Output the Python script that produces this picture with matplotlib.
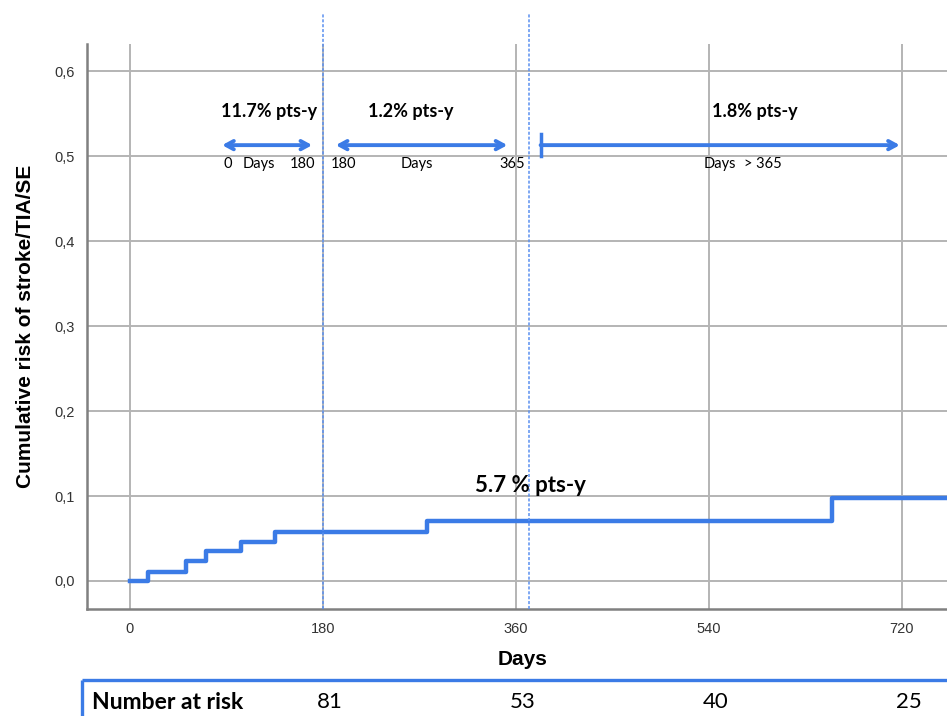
import matplotlib.pyplot as plt
from matplotlib.lines import Line2D

# Kaplan-Meier style cumulative risk (step after each event)
step_days = [0, 17, 52, 71, 104, 135, 277, 655, 770]
step_risk = [0.0, 0.011, 0.023, 0.035, 0.046, 0.058, 0.071, 0.098, 0.098]

x_ticks = [0, 180, 360, 540, 720]
y_ticks = [0.0, 0.1, 0.2, 0.3, 0.4, 0.5, 0.6]
y_tick_labels = ["0,0", "0,1", "0,2", "0,3", "0,4", "0,5", "0,6"]

period_cuts = [180, 372]
period_rates = ["11.7% pts-y", "1.2% pts-y", "1.8% pts-y"]
overall_rate = "5.7 % pts-y"

risk_days = [180, 360, 540, 720]
at_risk = [81, 53, 40, 25]

BLUE = "#3b7be6"
GRID = "#b4b4b4"
TXT = "Lato"

fig = plt.figure(figsize=(9.47, 7.16), dpi=100)
ax = fig.add_axes([0.0919, 0.1494, 0.9081, 0.7891])
ax.set_xlim(-40, 762)
ax.set_ylim(-0.033, 0.632)

for t in x_ticks:
    ax.axvline(t, color=GRID, lw=1.4, zorder=1)
for t in y_ticks:
    ax.axhline(t, color=GRID, lw=1.4, zorder=1)

ax.step(step_days, step_risk, where="post", color=BLUE, lw=3.2, zorder=3)

# period separators reach above the plot area
for c in period_cuts:
    ax.plot([c, c], [-0.033, 0.667], color="#5a90f0", lw=1.1, ls=(0, (2, 1.2)),
            clip_on=False, zorder=4)

ax.set_xticks(x_ticks)
ax.set_xticklabels([str(t) for t in x_ticks])
ax.set_yticks(y_ticks)
ax.set_yticklabels(y_tick_labels)
ax.tick_params(length=0, labelsize=10.5, labelcolor="#333333", pad=9,
               labelfontfamily="Liberation Sans")
for s in ["top", "right"]:
    ax.spines[s].set_visible(False)
for s in ["left", "bottom"]:
    ax.spines[s].set_color("#808080")
    ax.spines[s].set_linewidth(1.8)

ax.set_xlabel("Days", fontsize=15, fontweight="bold", family="Liberation Sans", labelpad=10)
ax.xaxis.set_label_coords(0.506, -0.072)
ax.set_ylabel("Cumulative risk of stroke/TIA/SE", fontsize=15, fontweight="bold",
              family="Liberation Sans", labelpad=14)

# period annotations
rate_x = [130, 262, 583]
for x, lab in zip(rate_x, period_rates):
    ax.text(x, 0.553, lab, ha="center", va="center", fontsize=13,
            fontweight="bold", family=TXT)

arrow_kw = dict(color=BLUE, lw=2.8, shrinkA=0, shrinkB=0)
head = ",head_length=0.55,head_width=0.3"
ax.annotate("", xy=(86, 0.513), xytext=(170, 0.513),
            arrowprops=dict(arrowstyle="<->" + head, **arrow_kw))
ax.annotate("", xy=(192, 0.513), xytext=(352, 0.513),
            arrowprops=dict(arrowstyle="<->" + head, **arrow_kw))
ax.annotate("", xy=(718, 0.513), xytext=(383, 0.513),
            arrowprops=dict(arrowstyle="->" + head, **arrow_kw))
ax.plot([383, 383], [0.5, 0.526], color=BLUE, lw=2.5)

small = [(91, "0"), (120, "Days"), (161, "180"), (199, "180"),
         (268, "Days"), (357, "365"), (550, "Days"), (590, "> 365")]
for x, lab in small:
    ax.text(x, 0.491, lab, ha="center", va="center", fontsize=10.5, family=TXT)

ax.text(322, 0.1, overall_rate, ha="left", va="bottom", fontsize=16,
        fontweight="bold", family=TXT, zorder=5)

# number at risk box: only top and left edges are inside the canvas
box_top, box_left = 0.0505, 0.0866
fig.add_artist(Line2D([box_left, 1.1], [box_top, box_top], transform=fig.transFigure,
                      color=BLUE, lw=2.4, solid_capstyle="butt"))
fig.add_artist(Line2D([box_left, box_left], [-0.1, box_top], transform=fig.transFigure,
                      color=BLUE, lw=2.4, solid_capstyle="butt"))
fig.text(0.097, 0.019, "Number at risk", fontsize=16.5, fontweight="bold",
         family=TXT, va="center")
for d, n in zip(risk_days, at_risk):
    xf = ax.transData.transform((d + 6, 0))[0] / fig.bbox.width
    fig.text(xf, 0.019, str(n), fontsize=16, family=TXT, ha="center", va="center")

fig.savefig("out.png", dpi=100)
